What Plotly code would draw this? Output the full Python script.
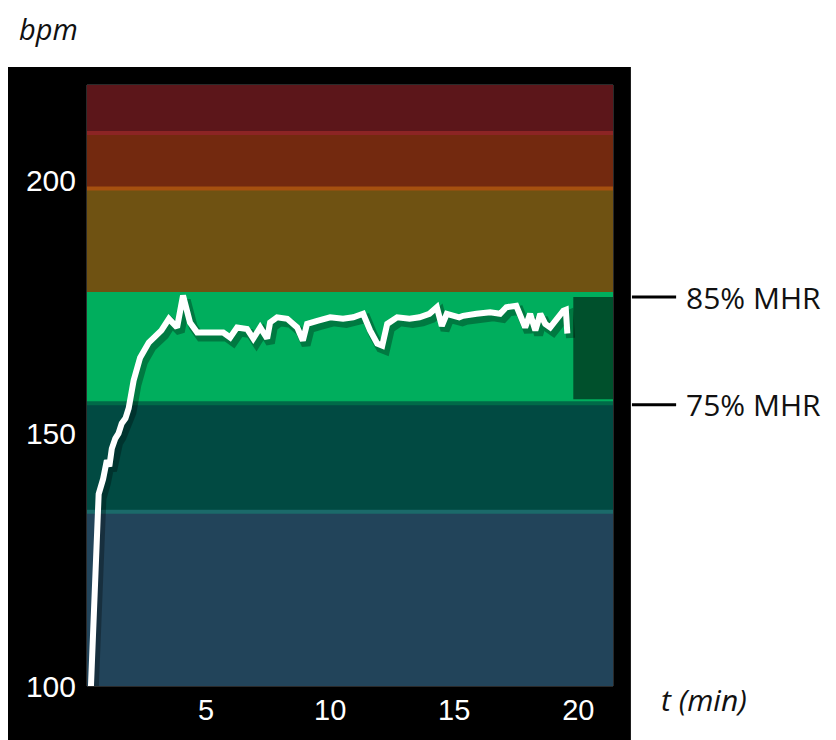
import plotly.graph_objects as go

# ---- data ----
time_min = [0.36, 0.55, 0.67, 0.85, 1.0, 1.1, 1.2, 1.34, 1.47, 1.6, 1.75, 1.88, 2.08, 2.34, 2.69,
            3.2, 3.5, 3.83, 4.07, 4.35, 4.64, 5.16, 5.69, 5.97, 6.25, 6.65, 6.9, 7.18,
            7.46, 7.58, 7.86, 8.27, 8.67, 8.9, 9.07, 9.48, 10.0, 10.52, 10.93, 11.33,
            11.61, 11.9, 12.1, 12.3, 12.7, 13.2, 13.6, 14.0, 14.3, 14.5, 14.7, 15.2,
            15.36, 15.9, 16.45, 16.85, 17.1, 17.5, 17.66, 17.86, 18.06, 18.27, 18.47,
            18.67, 18.87, 19.15, 19.4, 19.5, 19.56]
heart_rate = [100, 121, 138, 141, 144.7, 143.5, 147, 149, 150, 152, 153, 155, 160.5, 165, 168,
              170.4, 172.7, 171, 177.3, 172, 170, 170, 170, 169, 171, 170.7, 168.8, 171,
              168.8, 172, 173, 172.7, 171, 168.4, 171.7, 172.3, 173, 172.7, 173, 173.7,
              170.4, 167.8, 167.4, 171.7, 173, 172.7, 173, 173.7, 175, 171.3, 173.7, 173,
              173.3, 173.7, 174, 173.7, 175, 175.3, 173, 171, 173.7, 170.4, 173.7,
              171.7, 171, 173, 174.3, 174.5, 169.8]

zone_bounds = [100, 134.5, 156, 178, 198.5, 209.5, 219]
zone_colors = ["#22445A", "#014A42", "#00AE5D", "#6F5212", "#73290F", "#5C161A"]
zone_edge_colors = [None, "#1B6A6A", "#006A48", None, "#A6500F", "#8C2424"]

cooldown_time = [19.8, 21.4]
cooldown_bpm = [156.8, 177.0]

mhr_levels = [177.0, 155.7]
mhr_labels = ["85% MHR", "75% MHR"]

x_ticks = [5, 10, 15, 20]
y_ticks = [100, 150, 200]
x_range = [0.2, 21.4]
y_range = [100, 219]

fig = go.Figure()

# shadow of the curve
fig.add_trace(go.Scatter(
    x=[t + 0.13 for t in time_min], y=[h - 0.9 for h in heart_rate],
    mode="lines", line=dict(color="rgba(0,0,0,0.3)", width=9),
    hoverinfo="skip", showlegend=False))
fig.add_trace(go.Scatter(
    x=time_min, y=heart_rate, mode="lines",
    line=dict(color="white", width=6), showlegend=False))

shapes = []
# black background panel
shapes.append(dict(type="rect", xref="paper", yref="paper",
                   x0=-0.152, x1=1.034, y0=-0.12, y1=1.03,
                   fillcolor="black", line=dict(width=0), layer="below"))
# zones
for i in range(len(zone_colors)):
    shapes.append(dict(type="rect", xref="x", yref="y",
                       x0=x_range[0], x1=x_range[1],
                       y0=zone_bounds[i], y1=zone_bounds[i + 1],
                       fillcolor=zone_colors[i], line=dict(width=0), layer="below"))
for i, c in enumerate(zone_edge_colors):
    if c:
        shapes.append(dict(type="line", xref="x", yref="y",
                           x0=x_range[0], x1=x_range[1],
                           y0=zone_bounds[i], y1=zone_bounds[i],
                           line=dict(color=c, width=4), layer="below"))
# cooldown box
shapes.append(dict(type="rect", xref="x", yref="y",
                   x0=cooldown_time[0], x1=cooldown_time[1],
                   y0=cooldown_bpm[0], y1=cooldown_bpm[1],
                   fillcolor="#00502C", line=dict(width=0), layer="below"))
# plot frame
shapes.append(dict(type="rect", xref="paper", yref="paper", x0=0, x1=1, y0=0, y1=1,
                   line=dict(color="#555555", width=1), layer="below"))
# MHR tick lines
for lv in mhr_levels:
    shapes.append(dict(type="line", xref="paper", yref="y",
                       x0=1.036, x1=1.12, y0=lv, y1=lv,
                       line=dict(color="black", width=3)))

annotations = []
for lv, lab in zip(mhr_levels, mhr_labels):
    annotations.append(dict(xref="paper", yref="y", x=1.135, y=lv, text=lab,
                            showarrow=False, xanchor="left", yanchor="middle",
                            font=dict(family="Open Sans", size=30, color="#111111")))
annotations.append(dict(xref="paper", yref="paper", x=-0.133, y=1.094, text="bpm",
                        showarrow=False, xanchor="left", yanchor="middle",
                        font=dict(family="Open Sans", size=29, color="#111111", style="italic")))
annotations.append(dict(xref="paper", yref="paper", x=1.087, y=-0.023, text="t (min)",
                        showarrow=False, xanchor="left", yanchor="middle",
                        font=dict(family="Open Sans", size=30, color="#111111", style="italic")))

fig.update_layout(
    width=836, height=740,
    margin=dict(l=79, r=231, t=77, b=62),
    paper_bgcolor="white", plot_bgcolor="rgba(0,0,0,0)",
    shapes=shapes, annotations=annotations, showlegend=False,
    xaxis=dict(range=x_range, tickvals=x_ticks, showgrid=False, zeroline=False,
               showline=False, ticks="", ticklabelstandoff=4,
               tickfont=dict(family="Liberation Sans", size=29, color="white")),
    yaxis=dict(range=y_range, tickvals=y_ticks, showgrid=False, zeroline=False,
               showline=False, ticks="", ticklabelstandoff=10,
               tickfont=dict(family="Liberation Sans", size=30, color="white")),
)

fig.write_html("out.html")
